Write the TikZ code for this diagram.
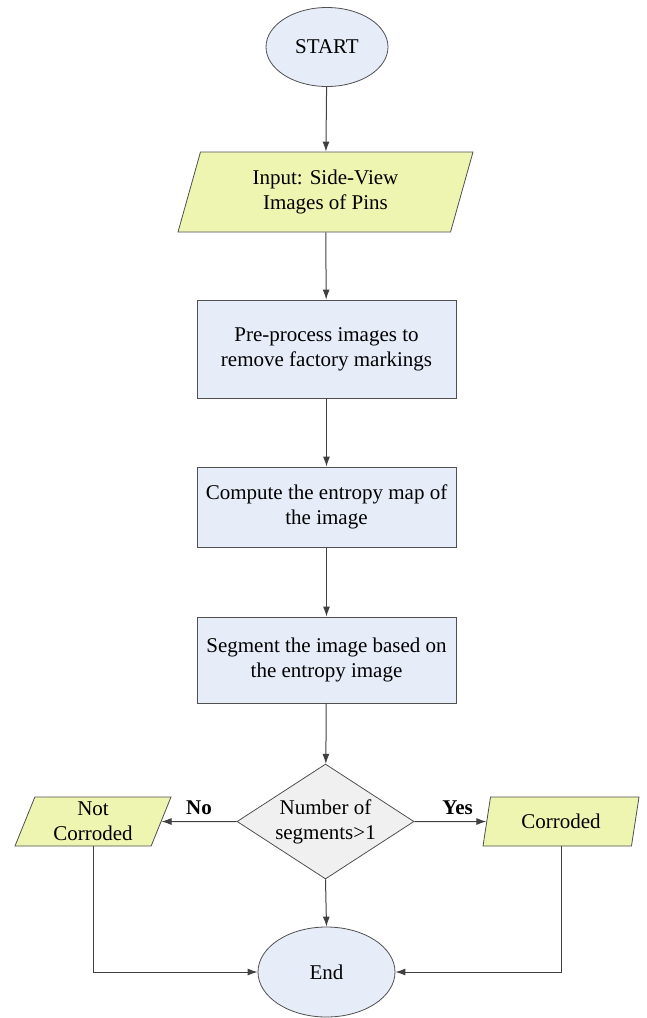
\documentclass[tikz,border=0pt]{standalone}
\usepackage{fontspec}
\setmainfont{Liberation Serif}
\usetikzlibrary{shapes.geometric,arrows.meta}
\definecolor{iofill}{RGB}{238,245,176}
\definecolor{boxfill}{RGB}{230,236,248}
\definecolor{decfill}{RGB}{240,240,240}
\definecolor{edge}{RGB}{80,80,80}
\begin{document}
\begin{tikzpicture}[x=0.5pt,y=-0.5pt,
    every node/.style={font=\fontsize{10.5}{12.5}\selectfont,align=center},
    term/.style={ellipse,draw=edge,fill=boxfill,inner sep=0pt},
    io/.style={trapezium,trapezium left angle=63,trapezium right angle=117,
      trapezium stretches body,draw=edge,fill=iofill,inner sep=0pt},
    proc/.style={rectangle,draw=edge,fill=boxfill,minimum width=129.5pt},
    dec/.style={diamond,draw=edge,fill=decfill,inner sep=0pt,shape aspect=1.54,
      minimum width=88.5pt,minimum height=57.5pt},
    flow/.style={draw={rgb,255:red,64;green,64;blue,64},line width=0.5pt,
      -{Latex[length=5pt,width=3.5pt]}}]
  \useasboundingbox (0,0) rectangle (647,1018);
  \node[term,minimum width=61pt,minimum height=39.5pt] (start) at (327,47) {START};
  \node[io,minimum width=147.5pt,minimum height=40pt] (input) at (325.5,192)
    {Input: Side-View\\Images of Pins};
  \node[proc,minimum height=49pt] (pre) at (326.5,349)
    {Pre-process images to\\remove factory markings};
  \node[proc,minimum height=40pt] (entropy) at (326.5,507)
    {Compute the entropy map of\\the image};
  \node[proc,minimum height=43pt] (segment) at (326.5,660)
    {Segment the image based on\\the entropy image};
  \node[dec] (decide) at (325.5,821.5) {Number of\\segments>1};
  \node[io,minimum width=78pt,minimum height=24.5pt] (notc) at (93,821.5)
    {Not\\Corroded};
  \node[io,minimum width=78pt,minimum height=24.5pt] (corr) at (561,821.5)
    {Corroded};
  \node[term,minimum width=68.5pt,minimum height=45pt] (end) at (326.5,972) {End};

  \draw[flow] (start) -- (input);
  \draw[flow] (input) -- (pre);
  \draw[flow] (pre) -- (entropy);
  \draw[flow] (entropy) -- (segment);
  \draw[flow] (segment) -- (decide);
  \draw[flow] (decide.west) -- node[above,font=\fontsize{10.5}{12.5}\bfseries] {No} (notc.east);
  \draw[flow] (decide.east) -- node[above,pos=0.6,font=\fontsize{10.5}{12.5}\bfseries] {Yes} (corr.west);
  \draw[flow] (decide.south) -- (end.north);
  \draw[flow] (notc.south) |- (end.west);
  \draw[flow] (corr.south) |- (end.east);
\end{tikzpicture}
\end{document}
